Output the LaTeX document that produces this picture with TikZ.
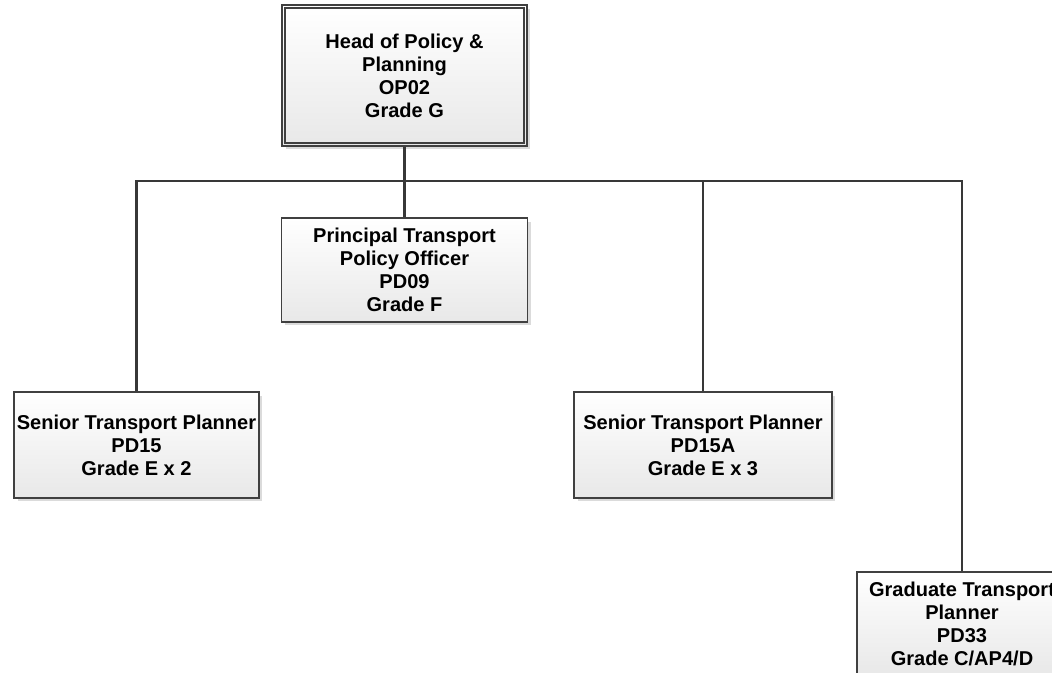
\documentclass[tikz,border=0pt]{standalone}
\usepackage{fontspec}
\setmainfont{Liberation Sans}
\usetikzlibrary{shadows}

\definecolor{boxline}{HTML}{404040}
\definecolor{linkline}{HTML}{383838}

\begin{document}
\begin{tikzpicture}[
        x=0.02cm, y=-0.02cm,
        post/.style={rectangle, draw=boxline, line width=0.85pt, top color=white, bottom color=black!9,
            align=center, font=\fontsize{11.4}{13.1}\selectfont\bfseries, inner sep=0pt,
            drop shadow={shadow xshift=0.07cm, shadow yshift=-0.07cm, fill=black!14, opacity=1}},
        link/.style={draw=linkline, line width=1.35pt}
    ]
        \useasboundingbox (0,0) rectangle (1052,673);

        % Head of the team
        \node[post, minimum width=4.9cm, minimum height=2.82cm] (head) at (404.5,75.5)
            {Head of Policy \&\\Planning\\OP02\\Grade G};
        \draw[boxline, line width=0.85pt] ([xshift=0.075cm, yshift=-0.075cm]head.north west)
            rectangle ([xshift=-0.075cm, yshift=0.075cm]head.south east);

        % Posts below
        \node[post, minimum width=4.92cm, minimum height=2.08cm] (principal) at (404.5,270)
            {Principal Transport\\Policy Officer\\PD09\\Grade F};
        \node[post, minimum width=4.9cm, minimum height=2.12cm] (senior1) at (136.5,445)
            {Senior Transport Planner\\PD15\\Grade E x 2};
        \node[post, minimum width=5.16cm, minimum height=2.12cm] (senior2) at (703,445)
            {Senior Transport Planner\\PD15A\\Grade E x 3};
        \node[post, minimum width=4.2cm, minimum height=2.08cm] (graduate) at (962,624)
            {Graduate Transport\\Planner\\PD33\\Grade C/AP4/D};

        % Connectors
        \coordinate (bus) at (404.5,181);
        \draw[link] (head.south) -- (bus);
        \draw[link] (bus) -- (principal.north);
        \draw[link] (senior1.north) |- (bus) -| (graduate.north);
        \draw[link] (senior2.north) -- (senior2.north |- bus);

    \end{tikzpicture}
\end{document}
